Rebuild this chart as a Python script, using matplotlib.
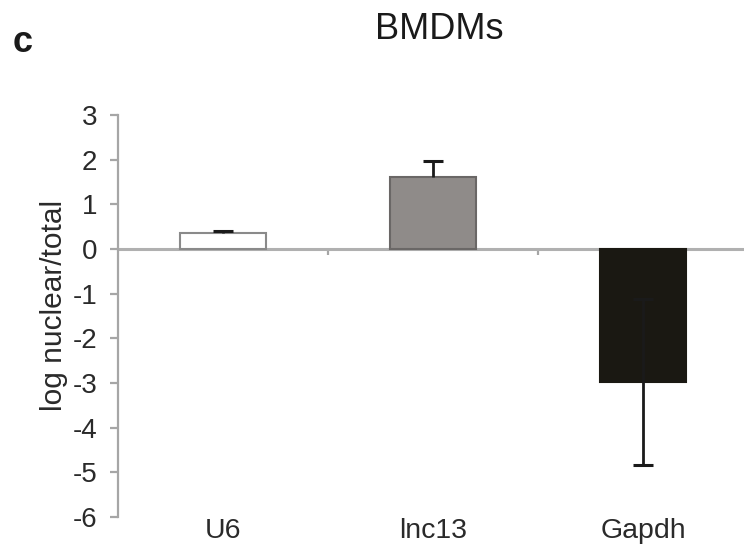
import numpy as np
import matplotlib.pyplot as plt

plt.rcParams['font.family'] = ['Liberation Sans', 'DejaVu Sans']

genes = ['U6', 'lnc13', 'Gapdh']
values = [0.36, 1.62, -2.98]
err_low = [0.0, 0.0, 1.85]
err_high = [0.04, 0.35, 1.85]
colors = ['#ffffff', '#8f8b89', '#1a1812']
edges = ['#8a8a8a', '#6a6766', '#1a1812']

fig = plt.figure(figsize=(7.44, 5.53), dpi=100)
ax = fig.add_axes([118/744, 1-517/553, 630/744, 402/553])

x = np.arange(len(genes))
ax.bar(x, values, width=0.41, color=colors, edgecolor=edges, linewidth=1.5, zorder=3)
eb = ax.errorbar(x, values, yerr=[err_low, err_high], fmt='none', ecolor='#1a1a1a',
                 elinewidth=2, capsize=7.5, capthick=2.2, zorder=4)
# only show a lower cap where there is a lower error
eb[1][0].set_markevery([i for i, e in enumerate(err_low) if e > 0])

ax.set_xlim(-0.5, 2.5)
ax.set_ylim(-6, 3)
ax.set_yticks(range(-6, 4))
ax.set_yticklabels([str(v) for v in range(-6, 4)])

gray = '#a6a6a6'
for s in ['top', 'right']:
    ax.spines[s].set_visible(False)
ax.spines['left'].set_color(gray)
ax.spines['left'].set_linewidth(1.6)
ax.spines['bottom'].set_position(('data', 0))
ax.spines['bottom'].set_color('#b0b0b0')
ax.spines['bottom'].set_linewidth(2.2)
ax.spines['bottom'].set_zorder(2)

ax.set_xticks(x)
ax.set_xticklabels(genes)
ax.set_xticks([0.5, 1.5], minor=True)
ax.tick_params(axis='x', which='major', length=0, pad=194, labelsize=20.5, labelcolor='#2a2a2a')
ax.tick_params(axis='x', which='minor', length=4, width=1.6, color=gray, direction='out')
ax.tick_params(axis='y', length=6, width=1.6, color=gray, pad=9, labelsize=20, labelcolor='#2a2a2a')

ax.set_ylabel('log nuclear/total', fontsize=21.5, color='#2a2a2a')
ax.yaxis.set_label_coords(-0.08, 0.527)

fig.text(439/744, 1-39/553, 'BMDMs', fontsize=26, ha='center', va='baseline', color='#1a1a1a')
fig.text(13/744, 1-52/553, 'c', fontsize=26, fontweight='bold', ha='left', va='baseline', color='#1a1a1a')

fig.savefig('out.png', dpi=100)
